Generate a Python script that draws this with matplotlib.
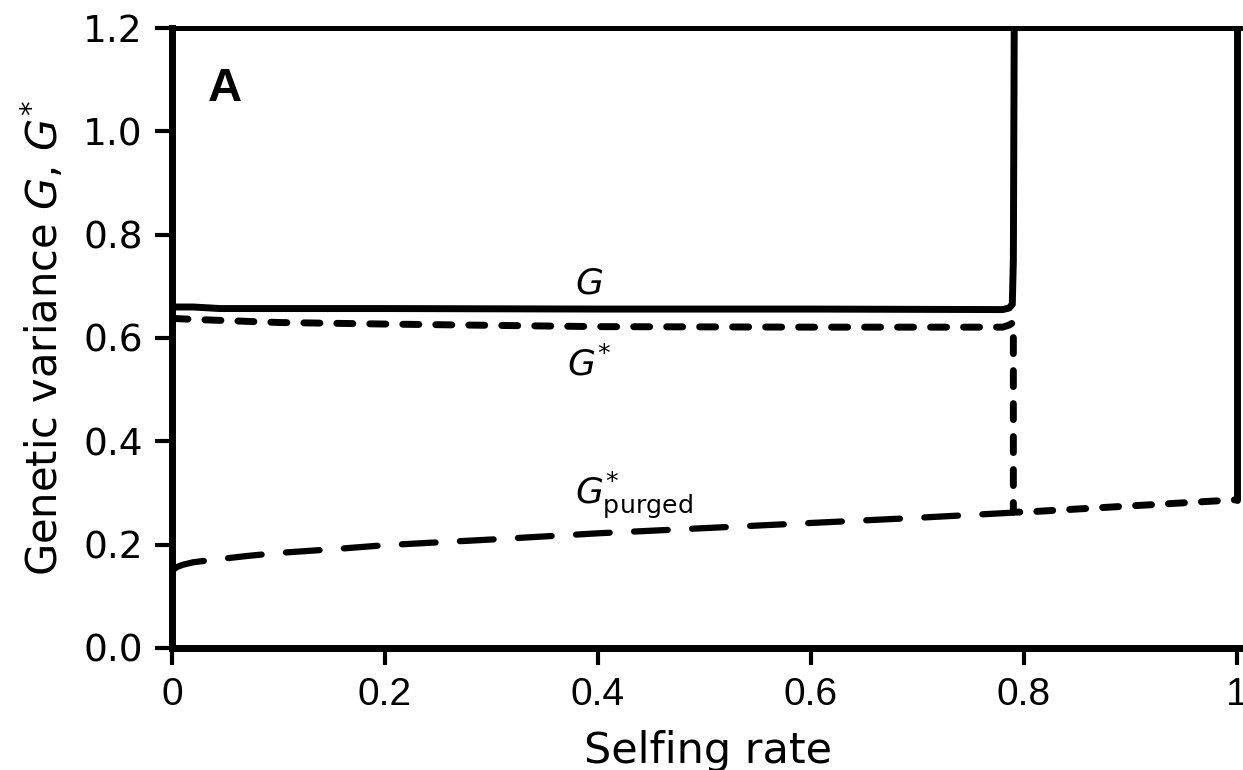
import matplotlib
matplotlib.use("Agg")
import matplotlib.pyplot as plt

# ---- data ----
x_G = [0.0, 0.02, 0.045, 0.1, 0.2, 0.4, 0.6, 0.78, 0.786, 0.789, 0.790, 0.791]
G = [0.660, 0.660, 0.657, 0.657, 0.657, 0.656, 0.656, 0.655, 0.658, 0.665, 0.75, 1.30]

x_G_one = [1.0, 1.0]
G_one = [1.30, 0.287]

x_Gstar = [0.0, 0.02, 0.1, 0.2, 0.4, 0.6, 0.78, 0.786, 0.790, 0.790, 0.80, 0.9, 1.0]
Gstar = [0.638, 0.636, 0.630, 0.627, 0.622, 0.621, 0.621, 0.625, 0.630, 0.263, 0.263, 0.275, 0.287]

x_purged = [0.0, 0.005, 0.01, 0.02, 0.04, 0.07, 0.1, 0.15, 0.2, 0.3, 0.4, 0.5, 0.6, 0.7, 0.79]
Gpurged = [0.150, 0.157, 0.161, 0.166, 0.171, 0.178, 0.184, 0.191, 0.199, 0.210, 0.222, 0.232, 0.242, 0.252, 0.262]

xticks = [0, 0.2, 0.4, 0.6, 0.8, 1.0]
xticklabels = ["0", "0.2", "0.4", "0.6", "0.8", "1"]
yticks = [0.0, 0.2, 0.4, 0.6, 0.8, 1.0, 1.2]
yticklabels = ["0.0", "0.2", "0.4", "0.6", "0.8", "1.0", "1.2"]

plt.rcParams['mathtext.fontset'] = 'dejavusans'

fig = plt.figure(figsize=(12.43, 7.70), dpi=100)
ax = fig.add_axes([172/1243, 1 - 648/770, 1 - 172/1243, (648 - 28)/770])

ax.plot(x_G, G, color="black", lw=5.0, solid_capstyle="butt", solid_joinstyle="round")
ax.plot(x_G_one, G_one, color="black", lw=5.0, solid_capstyle="round")
ax.plot(x_Gstar, Gstar, color="black", lw=5.0, linestyle=(0, (2.3, 2.45)),
        dash_capstyle="round", dash_joinstyle="round")
ax.plot(x_purged, Gpurged, color="black", lw=4.5, linestyle=(0, (5.4, 3.9)),
        dash_capstyle="round")

ax.set_xlim(0, (1243 - 172) / 1065)
ax.set_ylim(0, 1.2)

ax.set_xticks(xticks)
ax.set_xticklabels(xticklabels, family="Liberation Sans")
ax.set_yticks(yticks)
ax.set_yticklabels(yticklabels)

ax.tick_params(axis="both", direction="out", length=12, width=3, colors="black")
ax.tick_params(axis="x", pad=9, labelsize=28)
ax.tick_params(axis="y", pad=9, labelsize=27)

for side in ["left", "bottom"]:
    ax.spines[side].set_linewidth(5.0)
ax.spines["top"].set_linewidth(3.6)
ax.spines["right"].set_visible(False)

ax.set_xlabel("Selfing rate", fontsize=31, labelpad=12)
ax.set_ylabel("Genetic variance $G$, $G^{*}$", fontsize=30, labelpad=12)

ax.text(0.392, 0.706, "$G$", fontsize=26, ha="center", va="center")
ax.text(0.392, 0.548, "$G^{*}$", fontsize=26, ha="center", va="center")
ax.text(0.378, 0.296, r"$G^{*}_{\mathrm{purged}}$", fontsize=26, ha="left", va="center")
ax.text(0.034, 1.082, "A", fontsize=34, fontweight="bold", ha="left", va="center",
        family="Liberation Sans")

fig.savefig("out.png", dpi=100)
